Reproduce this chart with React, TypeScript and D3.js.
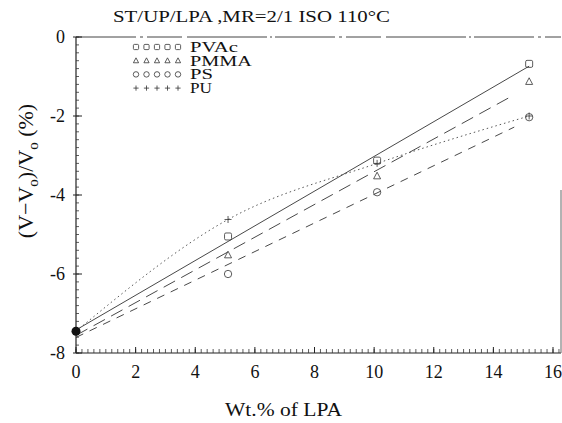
import React from "react";
import * as d3 from "d3";

const xValues = [0, 5.1, 10.1, 15.2];
const pvac = [-7.45, -5.05, -3.13, -0.68];
const pmma = [-7.45, -5.52, -3.52, -1.13];
const ps = [-7.45, -6.0, -3.93, -2.03];
const pu = [-7.45, -4.62, -3.2, -2.0];

const xTicks = [0, 2, 4, 6, 8, 10, 12, 14, 16];
const yTicks = [0, -2, -4, -6, -8];
const legendNames = ["PVAc", "PMMA", "PS", "PU"];
const legendWidths = [48, 62, 23, 22];

const W = 562, H = 423;
const FONT = "'Liberation Serif', 'Times New Roman', serif";

function regress(xs: number[], ys: number[]) {
  const mx = d3.mean(xs)!, my = d3.mean(ys)!;
  let sxy = 0, sxx = 0;
  xs.forEach((x, i) => { sxy += (x - mx) * (ys[i] - my); sxx += (x - mx) * (x - mx); });
  const b = sxy / sxx;
  return { a: my - b * mx, b };
}

function Marker({ type, x, y, s }: { type: string; x: number; y: number; s: number }) {
  const st = { fill: "none", stroke: "#333", strokeWidth: 0.8 };
  if (type === "PVAc") return <rect x={x - s} y={y - s} width={2 * s} height={2 * s} rx={s * 0.4} {...st} />;
  if (type === "PMMA") return <path d={`M${x},${y - s * 1.1}L${x + s},${y + s * 0.8}L${x - s},${y + s * 0.8}Z`} {...st} />;
  if (type === "PS") return <circle cx={x} cy={y} r={s * 1.05} {...st} />;
  return <path d={`M${x - s},${y}H${x + s}M${x},${y - s}V${y + s}`} {...st} />;
}

export default function App() {
  const x = d3.scaleLinear().domain([0, 16]).range([76, 553]);
  const y = d3.scaleLinear().domain([-8, 0]).range([353, 37]);
  const x0 = 76, x1 = 561, yTop = 37, yBot = 353;

  const series = [
    { name: "PVAc", ys: pvac, dash: "none", end: 15.2 },
    { name: "PMMA", ys: pmma, dash: "13,7", end: 14.7 },
    { name: "PS", ys: ps, dash: "8,7", end: 14.7 },
  ];

  const line = d3.line<[number, number]>().x(d => x(d[0])).y(d => y(d[1]));
  const puLine = d3.line<number>().x((_, i) => x(xValues[i])).y(d => y(d)).curve(d3.curveMonotoneX);

  const xMinor = d3.range(0, 16.41, 0.2);
  const yMinor = d3.range(-8, 0.01, 0.2);

  return (
    <svg width={W} height={H} style={{ position: "absolute", left: 0, top: 0, background: "#fff" }}>
      {/* title */}
      <text x={113} y={22} fontFamily={FONT} fontSize={17} fill="#111" textLength={277} lengthAdjust="spacingAndGlyphs">ST/UP/LPA ,MR=2/1 ISO 110°C</text>

      {/* frame */}
      <line x1={x0} x2={x1} y1={yTop} y2={yTop} stroke="#444" strokeWidth={1} strokeDasharray="60,4,3,4,35,5,80,3,2,3" />
      <line x1={x0} x2={x0} y1={yTop} y2={yBot} stroke="#222" strokeWidth={1.2} />
      <line x1={x0} x2={x1} y1={yBot} y2={yBot} stroke="#222" strokeWidth={1.2} />
      <line x1={x1} x2={x1} y1={190} y2={yBot} stroke="#666" strokeWidth={1} />

      {/* minor ticks */}
      {xMinor.map((v, i) => (
        <line key={"xm" + i} x1={x(v)} x2={x(v)} y1={yBot} y2={yBot - 4} stroke="#333" strokeWidth={0.8} />
      ))}
      {yMinor.map((v, i) => (
        <line key={"ym" + i} x1={x0} x2={x0 + 3} y1={y(v)} y2={y(v)} stroke="#333" strokeWidth={0.8} />
      ))}
      {xTicks.map(v => (
        <line key={"xt" + v} x1={x(v)} x2={x(v)} y1={yBot} y2={yBot - 6} stroke="#222" strokeWidth={1} />
      ))}
      {yTicks.map(v => (
        <line key={"yt" + v} x1={x0 - 3} x2={x0 + 6} y1={y(v)} y2={y(v)} stroke="#222" strokeWidth={1} />
      ))}

      {/* tick labels */}
      {xTicks.map(v => (
        <text key={"xl" + v} x={x(v)} y={378} textAnchor="middle" fontFamily={FONT} fontSize={18} fill="#111">{v}</text>
      ))}
      {yTicks.map(v => (
        <text key={"yl" + v} x={65} y={y(v) + 6} textAnchor="end" fontFamily={FONT} fontSize={18} fill="#111">{v === 0 ? "0" : "-" + Math.abs(v)}</text>
      ))}

      {/* axis labels */}
      <text x={225} y={416} fontFamily={FONT} fontSize={19} fill="#111" textLength={117} lengthAdjust="spacingAndGlyphs">Wt.% of LPA</text>
      <text transform="translate(33,171) rotate(-90)" textAnchor="middle" fontFamily={FONT} fontSize={22} fill="#111">
        (V−V<tspan dy={5} fontSize={15}>o</tspan><tspan dy={-5}>)/V</tspan><tspan dy={5} fontSize={15}>o</tspan><tspan dy={-5}> (%)</tspan>
      </text>

      {/* fit lines */}
      {series.map(s => {
        const { a, b } = regress(xValues, s.ys);
        const pts: [number, number][] = [[0, a], [s.end, a + b * s.end]];
        return <path key={s.name} d={line(pts)!} fill="none" stroke="#333" strokeWidth={0.9} strokeDasharray={s.dash} />;
      })}
      <path d={puLine(pu)!} fill="none" stroke="#444" strokeWidth={0.9} strokeDasharray="1.5,3" />

      {/* markers */}
      {[
        { name: "PVAc", ys: pvac },
        { name: "PMMA", ys: pmma },
        { name: "PS", ys: ps },
        { name: "PU", ys: pu },
      ].map(s =>
        s.ys.map((v, i) => i === 0 ? null : (
          <Marker key={s.name + i} type={s.name} x={x(xValues[i])} y={y(v)} s={3.5} />
        ))
      )}
      <circle cx={x(xValues[0])} cy={y(pvac[0])} r={4.5} fill="#111" />

      {/* legend */}
      {legendNames.map((n, r) => {
        const cy = 47 + r * 13.7;
        return (
          <g key={n}>
            {[0, 1, 2, 3, 4].map(k => (
              <Marker key={k} type={n} x={136 + k * 10.5} y={cy} s={2.6} />
            ))}
            <text x={190} y={cy + 5} fontFamily={FONT} fontSize={14} fill="#111" textLength={legendWidths[r]} lengthAdjust="spacingAndGlyphs">{n}</text>
          </g>
        );
      })}
    </svg>
  );
}
